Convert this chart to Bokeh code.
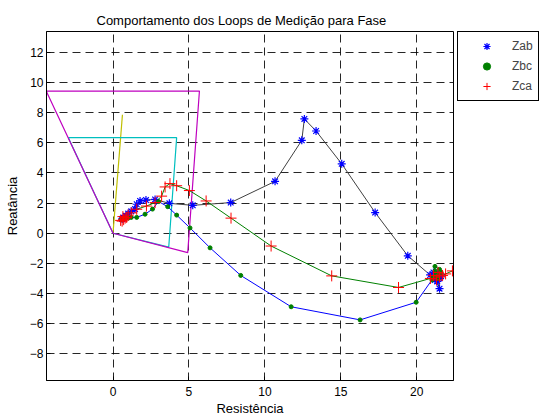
from bokeh.plotting import figure
from bokeh.models import Range1d, Legend, LegendItem, FixedTicker
from bokeh.layouts import row
from bokeh.embed import file_html
from bokeh.resources import INLINE

# ---- data ----
zab_r = [0.6, 0.7, 0.68, 0.85, 1.0, 1.2, 1.45, 1.56, 1.78, 2.17, 2.77, 3.71, 5.25, 7.75,
         10.67, 12.43, 12.6, 13.37, 15.06, 17.26, 19.41, 20.88, 21.1, 21.3, 21.2, 21.5,
         21.4, 21.5, 21.35, 21.6]
zab_x = [0.95, 1.0, 1.05, 1.15, 1.3, 1.45, 1.6, 1.92, 2.14, 2.2, 2.24, 1.98, 1.85, 2.03,
         3.44, 6.16, 7.58, 6.78, 4.6, 1.37, -1.5, -2.77, -2.6, -2.9, -3.1, -3.0,
         -2.7, -3.68, -3.2, -2.85]

zbc_r = [0.55, 0.7, 0.8, 1.0, 1.2, 1.56, 2.11, 2.6, 3.0, 3.6, 4.19, 5.07, 6.39, 8.41,
         11.73, 16.27, 19.96, 21.0, 21.2, 21.5, 21.3, 21.1, 21.4, 21.6, 21.2]
zbc_x = [0.9, 0.95, 1.0, 1.0, 1.05, 1.05, 1.26, 1.6, 2.1, 1.76, 1.2, 0.35, -0.97, -2.8,
         -4.88, -5.75, -4.58, -3.1, -2.2, -2.4, -2.7, -2.9, -3.0, -2.6, -2.5]

zca_r = [0.5, 0.6, 0.7, 0.8, 0.65, 0.9, 1.0, 1.2, 1.56, 2.2, 2.77, 3.2, 3.43, 3.75, 4.19,
         5.03, 6.13, 7.77, 10.41, 14.4, 18.8, 20.9, 21.1, 21.3, 21.5, 21.4, 21.7, 21.9, 22.35]
zca_x = [0.85, 0.8, 0.9, 1.0, 1.1, 1.05, 1.2, 1.35, 1.59, 1.8, 2.03, 2.46, 3.07, 3.29, 3.15,
         2.83, 2.14, 1.0, -0.85, -2.83, -3.6, -3.0, -2.8, -3.1, -2.9, -2.6, -2.8, -2.7, -2.5]

# protection zones
zone1_r = [0.0, 0.62]
zone1_x = [0.0, 7.86]
zone2_r = [0.0, -2.94, 4.19, 3.67, 0.0]
zone2_x = [0.0, 6.34, 6.34, -0.92, 0.0]
zone3_r = [0.0, -4.4, 5.69, 4.92, 0.0]
zone3_x = [0.0, 9.43, 9.43, -1.29, 0.0]

series_names = ["Zab", "Zbc", "Zca"]
x_ticks = [0, 5, 10, 15, 20]
y_ticks = [-8, -6, -4, -2, 0, 2, 4, 6, 8, 10, 12]

FONT = "Liberation Sans"

p = figure(width=454, height=420, output_backend="svg", toolbar_location=None,
           x_range=Range1d(-4.38, 22.42), y_range=Range1d(-9.77, 13.38),
           min_border_left=46, min_border_right=1, min_border_top=27, min_border_bottom=40,
           title="Comportamento dos Loops de Medição para Fase")

p.title.text_font = FONT
p.title.text_font_size = "13px"
p.title.text_font_style = "normal"
p.title.align = "left"
p.title.offset = 50
p.title.standoff = 7
p.title.text_color = "black"

p.outline_line_color = "black"
p.outline_line_width = 1
p.outline_line_alpha = 1

for ax in (p.xaxis, p.yaxis):
    ax.axis_line_color = "black"
    ax.major_tick_line_color = "black"
    ax.major_tick_in = 4
    ax.major_tick_out = 0
    ax.minor_tick_line_color = None
    ax.major_label_text_font = FONT
    ax.major_label_text_font_size = "12px"
    ax.major_label_text_color = "black"
    ax.axis_label_text_font = FONT
    ax.axis_label_text_font_size = "13px"
    ax.axis_label_text_font_style = "normal"
    ax.axis_label_text_color = "black"

p.xaxis.ticker = FixedTicker(ticks=x_ticks)
p.yaxis.ticker = FixedTicker(ticks=y_ticks)
p.xaxis.axis_label = "Resistência"
p.yaxis.axis_label = "Reatância"
p.xaxis.major_label_standoff = 6
p.yaxis.major_label_standoff = 3
p.xaxis.axis_label_standoff = 2
p.yaxis.axis_label_standoff = 7

p.xgrid.ticker = FixedTicker(ticks=x_ticks)
p.ygrid.ticker = FixedTicker(ticks=y_ticks)
for g in (p.xgrid, p.ygrid):
    g.grid_line_color = "black"
    g.grid_line_dash = "8 5"
    g.grid_line_width = 1
    g.grid_line_alpha = 0.85

# zones
p.line(zone1_r, zone1_x, line_color="#bfbf00", line_width=1.2)
p.line(zone2_r, zone2_x, line_color="#00bfbf", line_width=1.2)
p.line(zone3_r, zone3_x, line_color="#bf00bf", line_width=1.2)

# trajectories
p.line(zab_r, zab_x, line_color="#404040", line_width=1)
p.line(zbc_r, zbc_x, line_color="#0000ff", line_width=1)
p.line(zca_r, zca_x, line_color="#008000", line_width=1)

star_style = dict(marker="asterisk", size=8, line_color="#0000ff", line_width=1.2)
dot_style = dict(marker="circle", size=4, line_color="#008000", fill_color="#008000")
plus_style = dict(marker="cross", size=11, line_color="#ff0000", line_width=1)

p.scatter(zab_r, zab_x, **star_style)
p.scatter(zbc_r, zbc_x, **dot_style)
p.scatter(zca_r, zca_x, **plus_style)

# legend panel (separate narrow figure at the right, as in the reference);
# its ranges lie away from the data so only the legend is visible there
q = figure(width=87, height=420, output_backend="svg", toolbar_location=None,
           x_range=Range1d(100, 101), y_range=Range1d(100, 101),
           x_axis_location=None, y_axis_location=None,
           min_border_left=3, min_border_top=31, min_border_right=0, min_border_bottom=0,
           outline_line_color=None)
q.grid.visible = False
k_ab = q.scatter(zab_r[:1], zab_x[:1], **star_style)
k_bc = q.scatter(zbc_r[:1], zbc_x[:1], **dot_style)
k_ca = q.scatter(zca_r[:1], zca_x[:1], **plus_style)

legend = Legend(items=[LegendItem(label=series_names[0], renderers=[k_ab]),
                       LegendItem(label=series_names[1], renderers=[k_bc]),
                       LegendItem(label=series_names[2], renderers=[k_ca])],
                location="top_left")
legend.margin = 0
legend.padding = 5
legend.spacing = 2
legend.glyph_width = 47
legend.glyph_height = 18
legend.label_height = 18
legend.label_width = 20
legend.label_standoff = 2
legend.label_text_font = FONT
legend.label_text_font_size = "12px"
legend.border_line_color = "black"
legend.border_line_width = 1
legend.border_line_alpha = 1
legend.background_fill_alpha = 1
q.add_layout(legend)

layout = row(p, q)
open("out.html", "w").write(file_html(layout, INLINE))
